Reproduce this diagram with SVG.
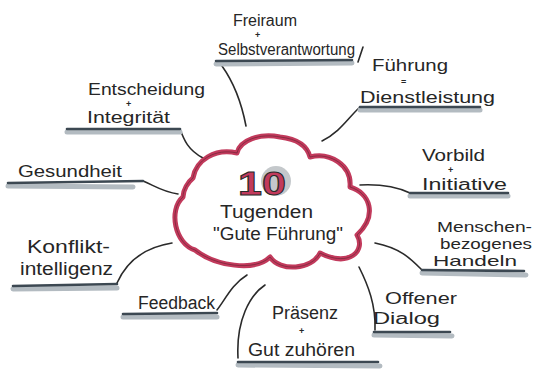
<svg xmlns="http://www.w3.org/2000/svg" width="534" height="371" viewBox="0 0 534 371">
<defs>
<style>
.t{font-family:"Liberation Sans",Arial,sans-serif;font-size:16px;fill:#262626;}
.m{font-size:18px;}
.s{font-size:15px;}
.p{font-family:"Liberation Sans",Arial,sans-serif;font-size:9px;font-weight:bold;fill:#262626;}
.c{fill:none;stroke:#2a2a2a;stroke-width:1.6;stroke-linecap:round;}
.us{fill:none;stroke:#b3bbc1;stroke-width:5;stroke-linecap:round;}
.u{fill:none;stroke:#3c4852;stroke-width:2.6;stroke-linecap:round;}
</style>
</defs>
<rect width="534" height="371" fill="#ffffff"/>
<g id="connectors">
<path class="c" d="M222,66 C232,80 241,100 246,126"/>
<path class="c" d="M359,108 C348,118 340,132 322,141"/>
<path class="c" d="M180,129 C184,140 188,150 203,158"/>
<path class="c" d="M143,181 C155,186 163,192 178,194"/>
<path class="c" d="M360,185 C380,184 395,186 410,193"/>
<path class="c" d="M117,283 C125,265 140,248 172,243"/>
<path class="c" d="M422,270 C410,258 400,248 375,243"/>
<path class="c" d="M217,310 C225,300 232,284 247,275"/>
<path class="c" d="M359,267 C368,285 376,305 375,330"/>
<path class="c" d="M265,285 C250,295 236,320 238,358"/>
<path class="c" d="M358,62 L363,47"/>
</g>
<g id="cloud">
<path d="M193,178 C196,160 215,148 237,153 C240,140 260,133 280,137 C297,139 307,145 310,157 C330,152 352,165 350,187 C370,193 378,215 357,235 C366,250 350,268 320,253 C312,270 280,272 270,257 C255,272 215,266 195,250 C175,244 168,210 183,197 C183,190 188,182 193,178 Z" fill="#ffffff" stroke="#c23a5c" stroke-width="5" stroke-linejoin="round"/>
<path d="M193,178 C196,160 215,148 237,153 C240,140 260,133 280,137 C297,139 307,145 310,157 C330,152 352,165 350,187 C370,193 378,215 357,235 C366,250 350,268 320,253 C312,270 280,272 270,257 C255,272 215,266 195,250 C175,244 168,210 183,197 C183,190 188,182 193,178 Z" fill="none" stroke="#5a1f2c" stroke-width="0.8" stroke-linejoin="round" opacity="0.7"/>
<circle cx="276" cy="181" r="15" fill="#c4c8cb"/>
<text x="238" y="195" font-family="Liberation Sans,Arial,sans-serif" font-size="34" font-weight="bold" fill="#c23a5c" stroke="#2a2a2a" stroke-width="1" textLength="48" lengthAdjust="spacingAndGlyphs">10</text>
<text class="t m" x="220" y="218" textLength="93" lengthAdjust="spacingAndGlyphs">Tugenden</text>
<text class="t m" x="213" y="240" textLength="130" lengthAdjust="spacingAndGlyphs">"Gute Führung"</text>
</g>
<g id="freiraum">
<text class="t" x="233" y="26" textLength="64" lengthAdjust="spacingAndGlyphs">Freiraum</text>
<text class="p" x="255" y="38">+</text>
<text class="t" x="218" y="55" textLength="137" lengthAdjust="spacingAndGlyphs">Selbstverantwortung</text>
<path class="us" d="M216,64 L352,63"/><path class="u" d="M216,61 L352,60"/>
</g>
<g id="fuehrung">
<text class="t" x="372" y="71" textLength="76" lengthAdjust="spacingAndGlyphs">Führung</text>
<text class="p" x="401" y="84.5">=</text>
<text class="t" x="360" y="103" textLength="135" lengthAdjust="spacingAndGlyphs">Dienstleistung</text>
<path class="us" d="M360,110 L480,110"/><path class="u" d="M360,107 L480,107"/>
</g>
<g id="entscheidung">
<text class="t" x="88" y="95" textLength="117" lengthAdjust="spacingAndGlyphs">Entscheidung</text>
<text class="p" x="126" y="107">+</text>
<text class="t" x="87" y="123" textLength="83" lengthAdjust="spacingAndGlyphs">Integrität</text>
<path class="us" d="M67,132 L180,132"/><path class="u" d="M67,129 L180,129"/>
</g>
<g id="gesundheit">
<text class="t" x="18" y="177" font-size="19" textLength="104" lengthAdjust="spacingAndGlyphs">Gesundheit</text>
<path class="us" d="M8,186 L133,187"/><path class="u" d="M8,183 L143,181"/>
</g>
<g id="vorbild">
<text class="t" x="422" y="161" textLength="63" lengthAdjust="spacingAndGlyphs">Vorbild</text>
<text class="p" x="448" y="173">+</text>
<text class="t" x="422" y="190" textLength="85" lengthAdjust="spacingAndGlyphs">Initiative</text>
<path class="us" d="M410,196 L508,196"/><path class="u" d="M410,193 L508,193"/>
</g>
<g id="konflikt">
<text class="t m" x="27" y="253" textLength="83" lengthAdjust="spacingAndGlyphs">Konflikt-</text>
<text class="t m" x="20" y="275" textLength="93" lengthAdjust="spacingAndGlyphs">intelligenz</text>
<path class="us" d="M13,289 L117,288"/><path class="u" d="M13,286 L117,284"/>
</g>
<g id="menschen">
<text class="t s" x="437" y="232" textLength="95" lengthAdjust="spacingAndGlyphs">Menschen-</text>
<text class="t s" x="440" y="249" textLength="92" lengthAdjust="spacingAndGlyphs">bezogenes</text>
<text class="t s" x="433" y="266" textLength="84" lengthAdjust="spacingAndGlyphs">Handeln</text>
<path class="us" d="M422,273 L526,275"/><path class="u" d="M422,270 L524,271"/>
</g>
<g id="feedback">
<text class="t m" x="138" y="309" textLength="77" lengthAdjust="spacingAndGlyphs">Feedback</text>
<path class="us" d="M123,317 L217,317"/><path class="u" d="M123,314 L217,313"/>
</g>
<g id="dialog">
<text class="t" x="385" y="304" font-size="17" textLength="72" lengthAdjust="spacingAndGlyphs">Offener</text>
<text class="t" x="373" y="324" font-size="17" textLength="67" lengthAdjust="spacingAndGlyphs">Dialog</text>
<path class="us" d="M374,335 L452,336"/><path class="u" d="M374,332 L450,332"/>
</g>
<g id="praesenz">
<text class="t m" x="272" y="319" textLength="66" lengthAdjust="spacingAndGlyphs">Präsenz</text>
<text class="p" x="299" y="334">+</text>
<text class="t m" x="248" y="356" textLength="107" lengthAdjust="spacingAndGlyphs">Gut zuhören</text>
<path class="us" d="M238,365 L380,366"/><path class="u" d="M238,362 L378,362"/>
</g>
</svg>
